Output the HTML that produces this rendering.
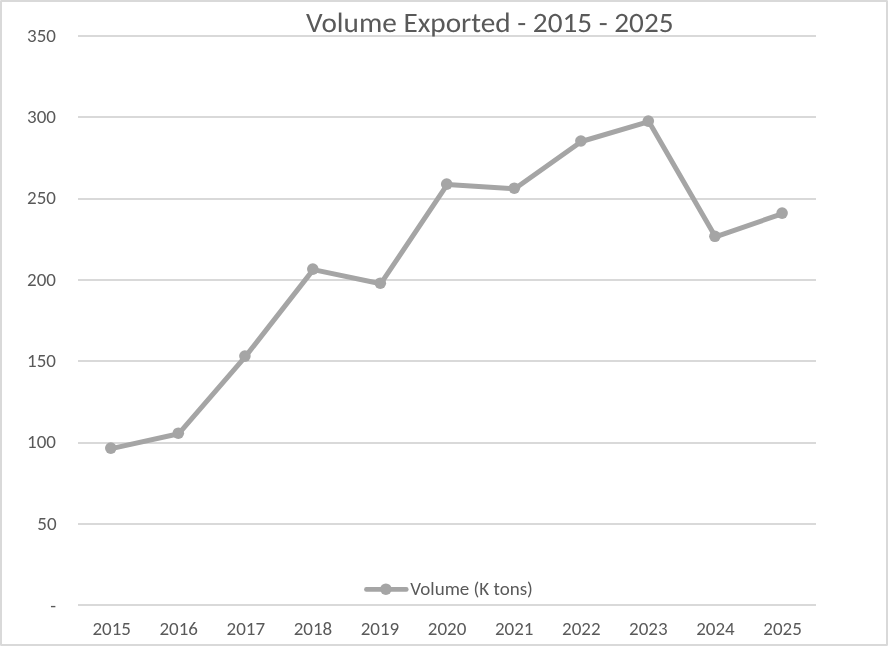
<!DOCTYPE html>
<html><head><meta charset="utf-8"><title>Volume Exported - 2015 - 2025</title>
<style>
html,body{margin:0;padding:0;background:#fff;}
#chart{position:absolute;left:0;top:0;width:888px;height:646px;background:#fff;overflow:hidden;filter:grayscale(1);}
svg{position:absolute;left:0;top:0;}
text{font-family:Carlito,"Liberation Sans",sans-serif;fill:#595959;}
</style></head><body>
<div id="chart">
<svg width="888" height="646" viewBox="0 0 888 646">
<g fill="#d9d9d9">
<rect x="78" y="35" width="738" height="2"/>
<rect x="78" y="116" width="738" height="2"/>
<rect x="78" y="198" width="738" height="2"/>
<rect x="78" y="279" width="738" height="2"/>
<rect x="78" y="360" width="738" height="2"/>
<rect x="78" y="442" width="738" height="2"/>
<rect x="78" y="523" width="738" height="2"/>
<rect x="78" y="604" width="738" height="2"/>
</g>
<g font-size="19">
<text x="56" y="42" text-anchor="end">350</text>
<text x="56" y="123" text-anchor="end">300</text>
<text x="56" y="204" text-anchor="end">250</text>
<text x="56" y="286" text-anchor="end">200</text>
<text x="56" y="367" text-anchor="end">150</text>
<text x="56" y="448" text-anchor="end">100</text>
<text x="56.6" y="530" text-anchor="end">50</text>
<text x="56" y="612" text-anchor="end">-</text>
</g>
<g font-size="19">
<text x="111.65" y="635" text-anchor="middle">2015</text>
<text x="178.74" y="635" text-anchor="middle">2016</text>
<text x="245.83" y="635" text-anchor="middle">2017</text>
<text x="312.92" y="635" text-anchor="middle">2018</text>
<text x="380.01" y="635" text-anchor="middle">2019</text>
<text x="447.10" y="635" text-anchor="middle">2020</text>
<text x="514.19" y="635" text-anchor="middle">2021</text>
<text x="581.28" y="635" text-anchor="middle">2022</text>
<text x="648.37" y="635" text-anchor="middle">2023</text>
<text x="715.46" y="635" text-anchor="middle">2024</text>
<text x="782.55" y="635" text-anchor="middle">2025</text>
</g>
<text transform="translate(489.8 32) scale(1.044 1)" x="0" y="0" text-anchor="middle" font-size="28" style="text-rendering:geometricPrecision">Volume Exported - 2015 - 2025</text>
<polyline points="111.3,448.6 178.8,433.7 245.4,356.6 313.3,269.6 380.8,283.7 447.2,184.6 514.8,188.7 581.4,141.5 648.8,121.6 715.4,236.8 782.6,213.6" fill="none" stroke="#a5a5a5" stroke-width="5" stroke-linejoin="round" stroke-linecap="round"/>
<g fill="#a5a5a5">
<circle cx="110.8" cy="448.1" r="5.8"/>
<circle cx="178.3" cy="433.2" r="5.8"/>
<circle cx="244.9" cy="356.1" r="5.8"/>
<circle cx="312.8" cy="269.1" r="5.8"/>
<circle cx="380.3" cy="283.2" r="5.8"/>
<circle cx="446.7" cy="184.1" r="5.8"/>
<circle cx="514.3" cy="188.2" r="5.8"/>
<circle cx="580.9" cy="141.0" r="5.8"/>
<circle cx="648.3" cy="121.1" r="5.8"/>
<circle cx="714.9" cy="236.3" r="5.8"/>
<circle cx="782.1" cy="213.1" r="5.8"/>
</g>
<line x1="366.4" y1="589.4" x2="406.3" y2="589.4" stroke="#a5a5a5" stroke-width="4.6" stroke-linecap="round"/>
<circle cx="385.9" cy="589.2" r="5.8" fill="#a5a5a5"/>
<text x="410.3" y="595" font-size="19">Volume (K tons)</text>
<g fill="#d9d9d9">
<rect x="0" y="0" width="888" height="2"/>
<rect x="0" y="644" width="888" height="2"/>
<rect x="0" y="0" width="2" height="646"/>
<rect x="886" y="0" width="2" height="646"/>
</g>
<g fill="#e6e6e6">
<rect x="0" y="0" width="1" height="1"/>
<rect x="887" y="0" width="1" height="1"/>
<rect x="0" y="645" width="1" height="1"/>
<rect x="887" y="645" width="1" height="1"/>
</g>
</svg>
</div>
</body></html>
